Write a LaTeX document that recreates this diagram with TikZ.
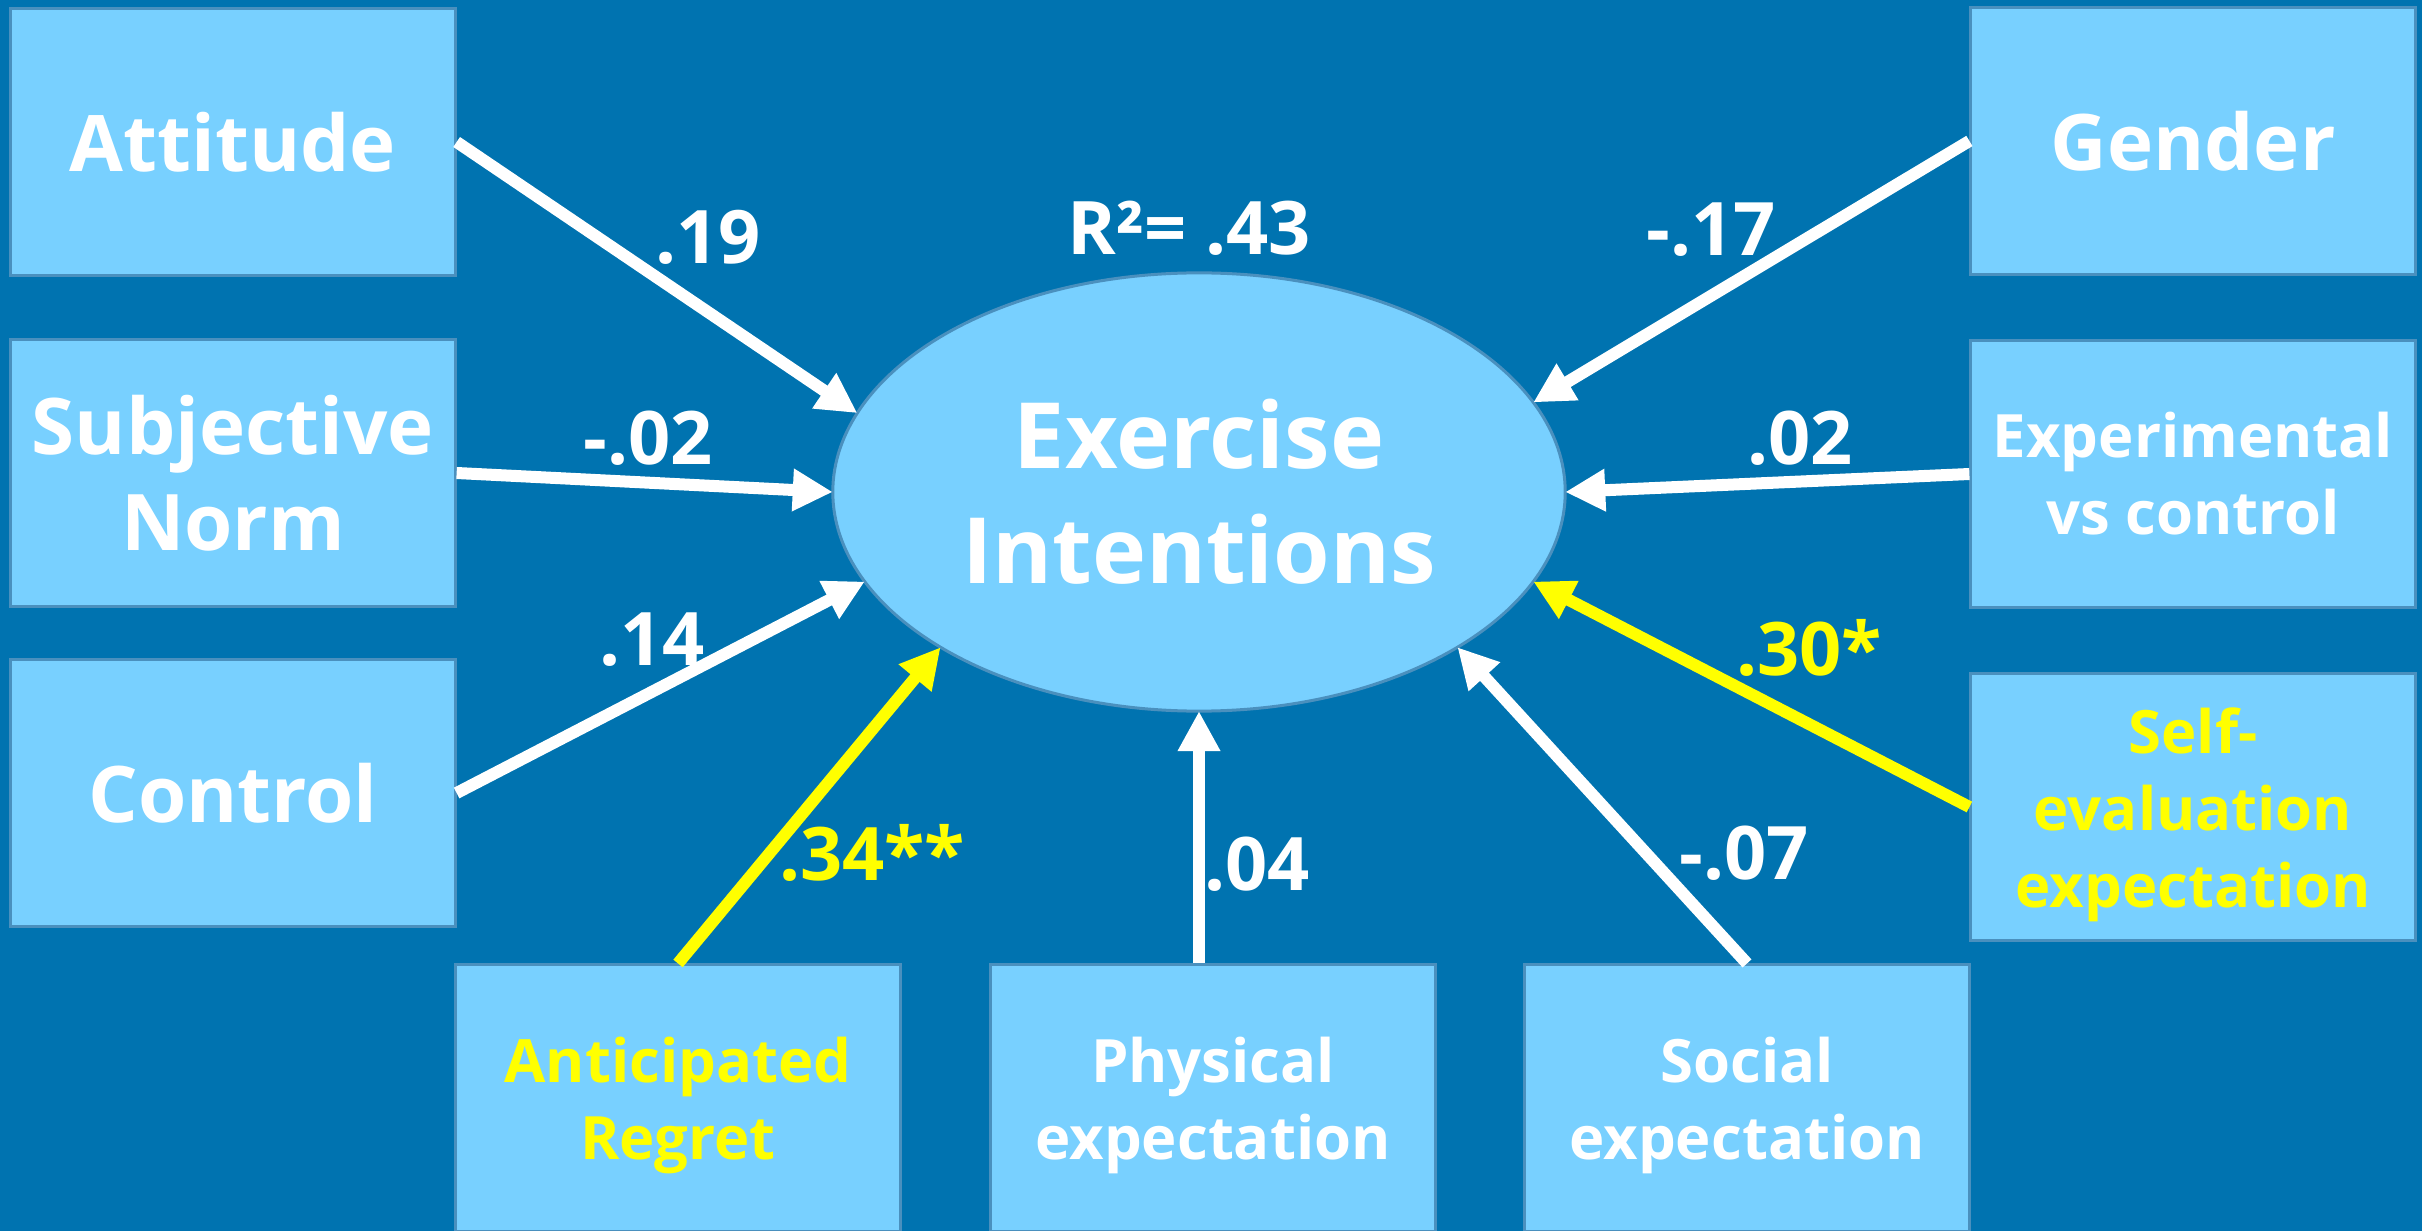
\documentclass[tikz,border=0pt]{standalone}
\usepackage{fontspec}
\setmainfont{Open Sans}
\usetikzlibrary{positioning, calc, arrows.meta, shapes.geometric}

\definecolor{bgblue}{HTML}{0073B0}
\definecolor{boxblue}{HTML}{78D0FF}
\definecolor{rimblue}{HTML}{4A90BE}
\definecolor{sigyellow}{HTML}{FFFF00}
\newcommand{\lowstrut}{\rule{0pt}{0.61cm}}

\begin{document}
\begin{tikzpicture}[x=0.01cm, y=-0.01cm,
    box/.style={rectangle, draw=rimblue, line width=0.03cm, fill=boxblue, minimum width=4.44cm,
        minimum height=2.66cm, inner sep=0pt, align=center, text=white,
        font=\bfseries\fontsize{22.2}{27.3}\selectfont},
    boxsmall/.style={box, font=\bfseries\fontsize{17}{21.9}\selectfont},
    coef/.style={text=white, inner sep=0pt, font=\bfseries\fontsize{21}{25}\selectfont},
    arr/.style={draw=white, line width=0.12cm, -{Triangle[length=0.4cm, width=0.4cm]}},
    sigarr/.style={arr, draw=sigyellow}]
\fill[bgblue] (0,0) rectangle (2422,1231);
\useasboundingbox (0,0) rectangle (2422,1231);

% predictors, left column
\draw   (233,142) node[box](att){Attitude}
        (233,473) node[box](sn){Subjective\\Norm}
        (233,793) node[box](ctl){Control};
% predictors, right column
\draw   (2193,141) node[box](gen){Gender}
        (2193,474) node[boxsmall](exp){Experimental\\vs control}
        (2193,807) node[boxsmall, text=sigyellow](seval){\lowstrut Self-\\evaluation\\expectation};
% predictors, bottom row
\draw   (678,1098) node[boxsmall, text=sigyellow](ar){\lowstrut Anticipated\\Regret}
        (1213,1098) node[boxsmall](phys){\lowstrut Physical\\expectation}
        (1747,1098) node[boxsmall](soc){\lowstrut Social\\expectation};

\draw (1199,492) node[ellipse, draw=rimblue, line width=0.03cm, fill=boxblue, minimum width=7.32cm,
        minimum height=4.38cm, inner sep=0pt, outer sep=0pt, align=center, text=white,
        font=\bfseries\fontsize{26}{32.7}\selectfont](ei){Exercise\\Intentions};

\path
    (att.east) edge[arr] (ei.167)
    (sn.east) edge[arr] (ei.180)
    (ctl.east) edge[arr] (ei.195)
    (gen.west) edge[arr] (ei.15)
    (exp.west) edge[arr] (ei.0)
    (phys.north -| ei.south) edge[arr] (ei.south)
    (soc.north) edge[arr] (ei.329)
    (ar.north) edge[sigarr] (ei.211)
    (seval.west) edge[sigarr] (ei.345);

\node[coef] (r2) at (1189,228) {R²= .43};
\node[coef] (c19) at (708,237) {.19};
\node[coef] (c02a) at (648,438) {-.02};
\node[coef] (c14) at (652,640) {.14};
\node[coef, text=sigyellow] (c34) at (872,853) {.34**};
\node[coef] (c04) at (1257,864) {.04};
\node[coef] (c07) at (1744,853) {-.07};
\node[coef, text=sigyellow] (c30) at (1809,648) {.30*};
\node[coef] (c02b) at (1800,438) {.02};
\node[coef] (c17) at (1711,230) {-.17};
\end{tikzpicture}
\end{document}
